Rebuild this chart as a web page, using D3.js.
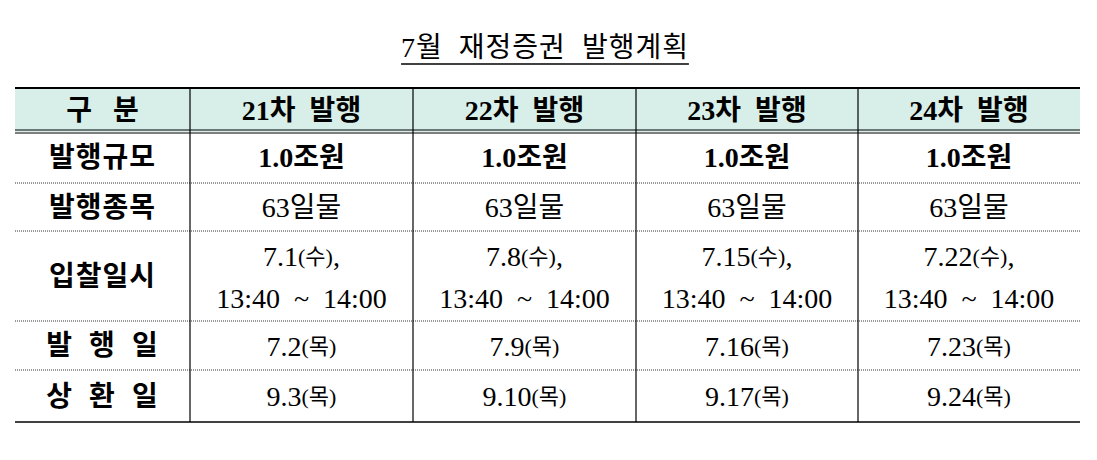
<!DOCTYPE html><html><head><meta charset="utf-8"><script src="https://cdn.jsdelivr.net/npm/d3@7"></script>
<style>body{margin:0;background:#fff}</style></head><body><svg id="c" width="1097" height="460"></svg>
<script>
const title="7월 재정증권 발행계획";
const headers=["구 분","21차 발행","22차 발행","23차 발행","24차 발행"];
const rowLabels=["발행규모","발행종목","입찰일시","발 행 일","상 환 일"];
const size=["1.0조원","1.0조원","1.0조원","1.0조원"];
const item=["63일물","63일물","63일물","63일물"];
const bidDate=[["7.1","수"],["7.8","수"],["7.15","수"],["7.22","수"]];
const bidTime=["13:40 ~ 14:00","13:40 ~ 14:00","13:40 ~ 14:00","13:40 ~ 14:00"];
const issue=[["7.2","목"],["7.9","목"],["7.16","목"],["7.23","목"]];
const redeem=[["9.3","목"],["9.10","목"],["9.17","목"],["9.24","목"]];

const svg=d3.select("#c");
const colX=[15,190,413,636,858,1080];
const rowY=[88,132,183,231,321,370,422];
const F="'Liberation Serif','DejaVu Serif','Noto Sans CJK KR',serif";
const mid=i=>(colX[i]+colX[i+1])/2;
const midY=i=>(rowY[i]+rowY[i+1])/2;

const t=svg.append("text").attr("x",545).attr("y",57).attr("text-anchor","middle").attr("font-family",F).attr("font-size",28).attr("letter-spacing",1).attr("xml:space","preserve").text(title.replace(/ /g,"  "));
const bb=t.node().getBBox();
svg.append("line").attr("x1",bb.x).attr("x2",bb.x+bb.width).attr("y1",64).attr("y2",64).attr("stroke","#000").attr("stroke-width",1.5);

svg.append("rect").attr("x",colX[0]).attr("y",rowY[0]).attr("width",colX[5]-colX[0]).attr("height",rowY[1]-rowY[0]).attr("fill","#d8efe9");
const L=(x1,y1,x2,y2,w,dash)=>svg.append("line").attr("x1",x1).attr("y1",y1).attr("x2",x2).attr("y2",y2).attr("stroke","#000").attr("stroke-width",w||1).attr("stroke-dasharray",dash||null);
L(colX[0],rowY[0],colX[5],rowY[0],2);
L(colX[0],rowY[1]-2,colX[5],rowY[1]-2,1);L(colX[0],rowY[1]+1,colX[5],rowY[1]+1,1);
[2,3,4,5].forEach(i=>L(colX[0],rowY[i],colX[5],rowY[i],0.8,"1,1"));
L(colX[0],rowY[6],colX[5],rowY[6],1.5);
[1,2,3,4].forEach(i=>L(colX[i],rowY[0],colX[i],rowY[6],1.2));

function txt(x,y,s,opt={}){return svg.append("text").attr("x",x).attr("y",y).attr("text-anchor","middle").attr("dominant-baseline","central").attr("font-family",F).attr("font-size",opt.size||28).attr("font-weight",opt.bold?"bold":null).attr("letter-spacing",opt.ls||0).attr("xml:space","preserve").text(s);}
headers.forEach((h,i)=>txt(mid(i),midY(0),h.replace(/ /g,i==0?"   ":"  "),{bold:true,size:28}));
rowLabels.forEach((r,i)=>txt(mid(0),midY(i+1),r.replace(/ /g,"  "),{bold:true,size:28,ls:1}));
function dateCell(x,y,d){const g=svg.append("text").attr("x",x).attr("y",y).attr("text-anchor","middle").attr("dominant-baseline","central").attr("font-family",F).attr("font-size",28);
g.append("tspan").text(d[0]);g.append("tspan").attr("font-size",22).text("("+d[1]+")");return g;}
size.forEach((s,i)=>txt(mid(i+1),midY(1),s,{bold:true}));
item.forEach((s,i)=>txt(mid(i+1),midY(2),s));
bidDate.forEach((d,i)=>{const g=dateCell(mid(i+1),midY(3)-20,d);g.append("tspan").text(",");});
bidTime.forEach((s,i)=>txt(mid(i+1),midY(3)+22,s.replace("~"," ~ ")));
issue.forEach((d,i)=>dateCell(mid(i+1),midY(4),d));
redeem.forEach((d,i)=>dateCell(mid(i+1),midY(5),d));
</script></body></html>
